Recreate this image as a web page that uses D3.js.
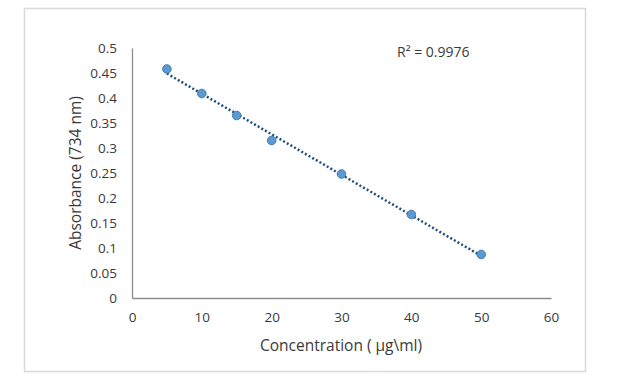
<!DOCTYPE html>
<html>
<head>
<meta charset="utf-8">
<script src="https://cdn.jsdelivr.net/npm/d3@7"></script>
<style>
  body { margin: 0; background: #fff; }
  text { font-family: "Open Sans", "Liberation Sans", sans-serif; fill: #3a3a3a; }
</style>
</head>
<body>
<div id="chart"></div>
<script>
var concentration = [5, 10, 15, 20, 30, 40, 50];
var absorbance = [0.458, 0.409, 0.365, 0.315, 0.248, 0.167, 0.087];
var xTicks = [0, 10, 20, 30, 40, 50, 60];
var yTicks = [0, 0.05, 0.1, 0.15, 0.2, 0.25, 0.3, 0.35, 0.4, 0.45, 0.5];
var rSquaredLabel = "R² = 0.9976";

var width = 638;
var height = 389;

var svg = d3.select("#chart").append("svg")
  .attr("width", width)
  .attr("height", height);

// chart area border
svg.append("rect")
  .attr("x", 24.5).attr("y", 8.5)
  .attr("width", 561).attr("height", 363)
  .attr("fill", "#fff")
  .attr("stroke", "#d9d9d9")
  .attr("stroke-width", 1.5);

var x = d3.scaleLinear().domain([0, 60]).range([132, 551]);
var y = d3.scaleLinear().domain([0, 0.5]).range([298, 48]);

var xAxis = svg.append("g")
  .attr("transform", "translate(0," + y(0) + ")")
  .call(d3.axisBottom(x).tickValues(xTicks).tickSize(0).tickPadding(14).tickFormat(d3.format("d")));
xAxis.select(".domain").attr("stroke", "#8c8c8c").attr("stroke-width", 1.3);
xAxis.selectAll("text").style("font-size", "13.5px").attr("fill", "#3a3a3a");

var yAxis = svg.append("g")
  .attr("transform", "translate(" + x(0) + ",0)")
  .call(d3.axisLeft(y).tickValues(yTicks).tickSize(0).tickPadding(15).tickFormat(function (d) { return d3.format("")(+d.toFixed(2)) }));
yAxis.select(".domain").attr("stroke", "#8c8c8c").attr("stroke-width", 1.3);
yAxis.selectAll("text").style("font-size", "13.5px").attr("fill", "#3a3a3a");

// linear trendline (least squares)
var mx = d3.mean(concentration), my = d3.mean(absorbance);
var sxy = d3.sum(concentration, function (d, i) { return (d - mx) * (absorbance[i] - my) });
var sxx = d3.sum(concentration, function (d) { return (d - mx) * (d - mx) });
var slope = sxy / sxx;
var intercept = my - slope * mx;
var xExt = d3.extent(concentration);

svg.append("line")
  .attr("x1", x(xExt[0])).attr("y1", y(intercept + slope * xExt[0]))
  .attr("x2", x(xExt[1])).attr("y2", y(intercept + slope * xExt[1]))
  .attr("stroke", "#1f4e79")
  .attr("stroke-width", 2.5)
  .attr("stroke-dasharray", "2,2.2");

svg.selectAll(".pt")
  .data(concentration)
  .enter()
  .append("circle")
  .attr("class", "pt")
  .attr("cx", function (d) { return x(d) })
  .attr("cy", function (d, i) { return y(absorbance[i]) })
  .attr("r", 4.3)
  .attr("fill", "#5b9bd5")
  .attr("stroke", "#41719c")
  .attr("stroke-width", 0.9);

svg.append("text")
  .attr("x", 397).attr("y", 57)
  .style("font-size", "14px")
  .text(rSquaredLabel);

svg.append("text")
  .attr("x", 341).attr("y", 351)
  .attr("text-anchor", "middle")
  .style("font-size", "15.5px")
  .text("Concentration ( µg\\ml)");

svg.append("text")
  .attr("transform", "translate(81,173) rotate(-90)")
  .attr("text-anchor", "middle")
  .style("font-size", "15.5px")
  .text("Absorbance (734 nm)");
</script>
</body>
</html>
